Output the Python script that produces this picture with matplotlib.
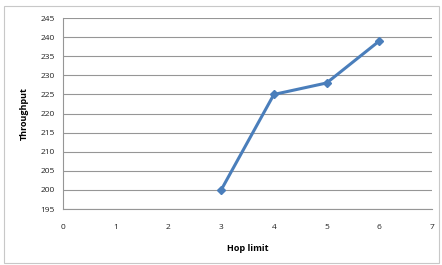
import matplotlib
matplotlib.use("Agg")
import matplotlib.pyplot as plt
from matplotlib.patches import Rectangle

# dados
hop_limit = [3, 4, 5, 6]
throughput = [200, 225, 228, 239]
x_ticks = [0, 1, 2, 3, 4, 5, 6, 7]
y_ticks = [195, 200, 205, 210, 215, 220, 225, 230, 235, 240, 245]

plt.rcParams["font.family"] = ["Open Sans", "DejaVu Sans"]

fig = plt.figure(figsize=(4.42, 2.65), dpi=100)
ax = fig.add_axes([0.1425, 0.211, 0.835, 0.721])

# moldura externa do gráfico (estilo Excel)
fig.patches.append(Rectangle((0.008, 0.006), 0.985, 0.972, transform=fig.transFigure,
                             fill=False, edgecolor="#c8c8c8", linewidth=0.8))

ax.plot(hop_limit, throughput, color="#4a7ebb", linewidth=2.2,
        marker="D", markersize=4, zorder=3)

ax.set_xlim(0, 7)
ax.set_ylim(195, 245)
ax.set_xticks(x_ticks)
ax.set_yticks(y_ticks)
ax.tick_params(labelsize=6, length=0, colors="#222222")
ax.tick_params(axis="x", pad=11)
ax.tick_params(axis="y", pad=6)
ax.grid(axis="y", color="#969696", linewidth=0.8)
ax.set_axisbelow(True)

for lado in ("top", "right"):
    ax.spines[lado].set_visible(False)
for lado in ("left", "bottom"):
    ax.spines[lado].set_color("#969696")
    ax.spines[lado].set_linewidth(0.8)

ax.set_xlabel("Hop limit", fontsize=6.5, fontweight="bold", labelpad=9)
ax.set_ylabel("Throughput", fontsize=6.5, fontweight="bold", labelpad=8)

fig.savefig("out.png", dpi=100)
